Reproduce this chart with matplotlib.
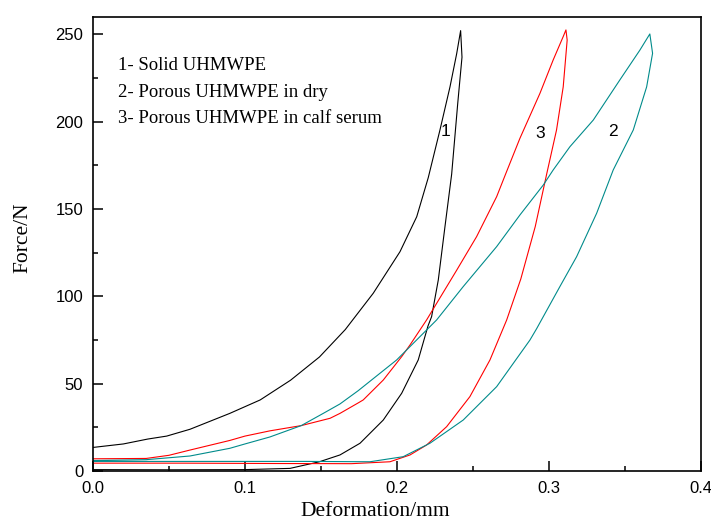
import matplotlib
matplotlib.use("Agg")
import matplotlib.pyplot as plt
from matplotlib.ticker import MultipleLocator, FormatStrFormatter

# ---- data (Deformation/mm, Force/N) ----
solid_up_x = [0.0, 0.02, 0.036, 0.0485, 0.0638, 0.09, 0.11, 0.13, 0.149, 0.166, 0.1844,
              0.202, 0.213, 0.2206, 0.2283, 0.2349, 0.2393, 0.2419]
solid_up_y = [13.5, 15.5, 18.3, 20.0, 23.9, 33.0, 40.7, 52.0, 65.3, 81.0, 101.8,
              125.6, 145.6, 168.0, 195.3, 220.0, 239.0, 252.2]
solid_dn_x = [0.2419, 0.2428, 0.2400, 0.2360, 0.2316, 0.2272, 0.2228, 0.2204, 0.2140,
              0.2031, 0.1910, 0.1757, 0.1625, 0.1490, 0.1296, 0.10, 0.05, 0.0]
solid_dn_y = [252.2, 237.0, 210.6, 170.0, 140.0, 109.4, 88.4, 83.0, 63.6,
              44.5, 29.2, 15.9, 9.2, 5.3, 1.5, 0.8, 0.7, 0.8]

serum_up_x = [0.0, 0.035, 0.05, 0.0638, 0.09, 0.10, 0.1164, 0.137, 0.156, 0.1625, 0.1745,
              0.1778, 0.191, 0.2031, 0.2086, 0.2195, 0.2393, 0.2524, 0.2656, 0.2717,
              0.2809, 0.2941, 0.3028, 0.3094, 0.3112]
serum_up_y = [7.0, 7.2, 9.0, 12.0, 17.5, 20.0, 23.0, 26.0, 30.2, 33.0, 39.0,
              40.7, 52.1, 65.5, 72.2, 86.5, 115.0, 134.2, 157.1, 170.5,
              190.5, 216.3, 235.4, 248.8, 252.6]
serum_dn_x = [0.3112, 0.3120, 0.3094, 0.3050, 0.2985, 0.2910, 0.2815, 0.2722,
              0.2612, 0.2480, 0.2327, 0.2195, 0.2086, 0.1954, 0.17, 0.12, 0.06, 0.0]
serum_dn_y = [252.6, 246.8, 220.0, 195.3, 170.0, 140.0, 110.0, 86.5,
              63.6, 42.6, 25.4, 14.9, 9.2, 5.3, 4.2, 4.3, 4.5, 4.5]

dry_up_x = [0.0, 0.035, 0.0638, 0.09, 0.10, 0.1164, 0.137, 0.1515, 0.1625, 0.1745,
            0.1778, 0.1998, 0.2129, 0.2261, 0.2436, 0.2656, 0.2809, 0.2963, 0.3028,
            0.3138, 0.3292, 0.3467, 0.3599, 0.3664]
dry_up_y = [6.0, 6.5, 8.6, 13.0, 15.5, 19.5, 26.0, 33.0, 38.4, 46.0,
            48.3, 63.6, 75.0, 86.5, 105.6, 128.5, 146.6, 163.8, 172.4,
            185.7, 201.0, 224.0, 241.1, 250.3]
dry_dn_x = [0.3664, 0.3682, 0.3643, 0.3555, 0.3423, 0.3314, 0.3182, 0.3072, 0.2919,
            0.2875, 0.2656, 0.2436, 0.2217, 0.2041, 0.1822, 0.14, 0.08, 0.0]
dry_dn_y = [250.3, 239.2, 220.0, 195.3, 172.4, 147.6, 122.7, 105.6, 81.5,
            75.0, 48.3, 29.2, 15.9, 8.2, 5.3, 5.5, 5.5, 5.5]

legend_lines = ["1- Solid UHMWPE", "2- Porous UHMWPE in dry", "3- Porous UHMWPE in calf serum"]
curve_labels = ["1", "3", "2"]
curve_label_x = [0.2322, 0.2945, 0.3423]
curve_label_y = [194.3, 193.4, 194.3]

x_ticks = [0.0, 0.1, 0.2, 0.3, 0.4]
y_ticks = [0, 50, 100, 150, 200, 250]

# ---- figure ----
fig = plt.figure(figsize=(7.11, 5.23), dpi=100)
ax = fig.add_axes([0.1308, 0.0994, 0.855, 0.8681])

lw = 0.8
ax.plot(solid_up_x + solid_dn_x, solid_up_y + solid_dn_y, color="black", lw=lw)
ax.plot(serum_up_x + serum_dn_x, serum_up_y + serum_dn_y, color="#FF0000", lw=lw)
ax.plot(dry_up_x + dry_dn_x, dry_up_y + dry_dn_y, color="#008B8B", lw=lw)

ax.set_xlim(0, 0.4)
ax.set_ylim(0, 260)
ax.set_xticks(x_ticks)
ax.set_yticks(y_ticks)
ax.xaxis.set_minor_locator(MultipleLocator(0.05))
ax.yaxis.set_minor_locator(MultipleLocator(25))
ax.xaxis.set_major_formatter(FormatStrFormatter("%.1f"))
ax.yaxis.set_major_formatter(FormatStrFormatter("%d"))

ax.tick_params(which="both", direction="in", top=False, right=False, width=1.1)
ax.tick_params(which="major", length=7, pad=7, labelsize=12)
ax.tick_params(which="minor", length=3.7)
for lab in ax.get_xticklabels() + ax.get_yticklabels():
    lab.set_fontfamily("Liberation Sans")
for sp in ax.spines.values():
    sp.set_linewidth(1.2)

ax.set_xlabel("Deformation/mm", family="Liberation Serif", fontsize=15.5)
ax.set_ylabel("Force/N", family="Liberation Serif", fontsize=15.5)
ax.xaxis.set_label_coords(0.464, -0.068)
ax.yaxis.set_label_coords(-0.10, 0.513)

for i, t in enumerate(legend_lines):
    ax.text(0.0164, 232 - i * 15.2, t, family="Liberation Serif", fontsize=13.5,
            ha="left", va="center")

for t, x, y in zip(curve_labels, curve_label_x, curve_label_y):
    ax.text(x, y, t, family="Liberation Sans", fontsize=12.5, ha="center", va="center")

fig.savefig("out.png", dpi=100)
